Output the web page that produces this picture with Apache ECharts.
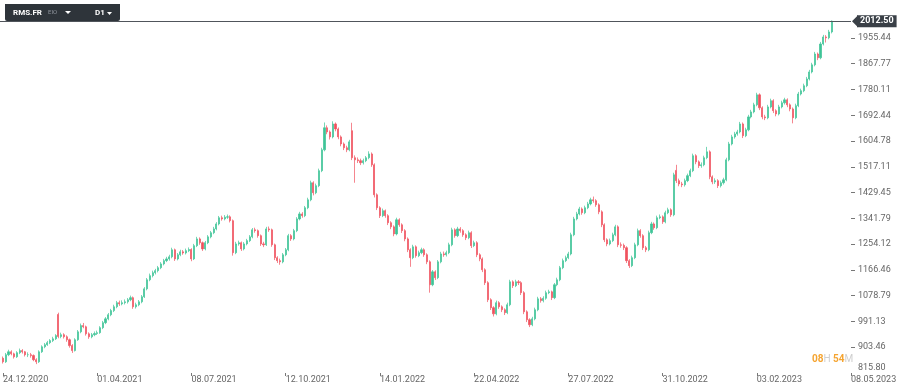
<!DOCTYPE html>
<html><head><meta charset="utf-8">
<script src="https://cdn.jsdelivr.net/npm/echarts@6/dist/echarts.min.js"></script>
<style>html,body{margin:0;padding:0;background:#fff}#c{width:900px;height:390px}</style>
</head><body><div id="c"></div>
<script>
const tickLabels = ['24.12.2020','01.04.2021','08.07.2021','12.10.2021','14.01.2022','22.04.2022','27.07.2022','31.10.2022','03.02.2023','08.05.2023'];
const yTicks = [815.80, 903.46, 991.13, 1078.79, 1166.46, 1254.12, 1341.79, 1429.45, 1517.11, 1604.78, 1692.44, 1780.11, 1867.77, 1955.44];
const lastPrice = 2012.50;
const barsPerLabel = 34;

const opens = [
866,854,878,888,881,871,885,892,888,878,
878,875,861,854,888,905,912,919,926,932,
1015,940,946,939,929,909,892,929,956,977,
973,949,939,946,950,953,970,987,1000,1014,
1028,1041,1055,1051,1055,1058,1065,1072,1041,1048,
1058,1075,1102,1133,1147,1157,1164,1174,1187,1198,
1204,1211,1235,1204,1218,1228,1224,1232,1236,1204,
1249,1272,1259,1238,1259,1279,1293,1306,1323,1344,
1340,1346,1347,1334,1225,1255,1259,1238,1255,1266,
1279,1303,1300,1283,1255,1252,1306,1303,1252,1208,
1198,1194,1218,1235,1283,1272,1300,1340,1357,1351,
1378,1405,1463,1429,1453,1504,1575,1650,1636,1619,
1663,1646,1619,1595,1582,1575,1640,1548,1541,1538,
1531,1538,1548,1561,1524,1422,1378,1351,1368,1351,
1327,1313,1289,1337,1320,1300,1272,1235,1208,1245,
1215,1225,1235,1218,1194,1116,1160,1140,1194,1221,
1218,1225,1252,1303,1283,1306,1300,1286,1276,1293,
1249,1259,1218,1204,1167,1123,1065,1038,1017,1055,
1041,1031,1021,1048,1126,1113,1126,1123,1089,1024,
997,980,1000,1031,1068,1062,1070,1089,1092,1072,
1116,1133,1174,1198,1208,1221,1286,1340,1357,1374,
1361,1378,1391,1405,1402,1388,1364,1320,1269,1255,
1266,1286,1313,1252,1250,1242,1198,1181,1208,1252,
1300,1283,1242,1235,1293,1323,1310,1344,1347,1330,
1361,1371,1354,1505,1470,1459,1456,1470,1487,1504,
1555,1534,1521,1524,1548,1568,1483,1466,1470,1453,
1463,1473,1541,1595,1619,1629,1636,1663,1623,1643,
1687,1704,1728,1762,1718,1687,1684,1721,1742,1708,
1697,1721,1735,1745,1728,1714,1684,1725,1765,1776,
1793,1816,1840,1864,1901,1888,1935,1959,1956,1976
];
const closes = [
854,878,888,881,871,885,892,888,878,878,
875,861,854,888,905,912,919,926,932,943,
940,946,939,929,909,892,929,956,977,973,
949,939,946,950,953,970,987,1000,1014,1028,
1041,1055,1051,1055,1058,1065,1072,1041,1048,1058,
1075,1102,1133,1147,1157,1164,1174,1187,1198,1204,
1211,1235,1204,1218,1228,1224,1232,1236,1204,1249,
1272,1259,1238,1259,1279,1293,1306,1323,1344,1340,
1346,1347,1334,1225,1255,1259,1238,1255,1266,1279,
1303,1300,1283,1255,1252,1306,1303,1252,1208,1198,
1194,1218,1235,1283,1272,1300,1340,1357,1351,1378,
1405,1463,1429,1453,1504,1575,1650,1636,1619,1663,
1646,1619,1595,1582,1575,1602,1548,1541,1538,1531,
1538,1548,1561,1524,1422,1378,1351,1368,1351,1327,
1313,1289,1337,1320,1300,1272,1235,1208,1245,1215,
1225,1235,1218,1194,1116,1160,1140,1194,1221,1218,
1225,1252,1303,1283,1306,1300,1286,1276,1293,1249,
1259,1218,1204,1167,1123,1065,1038,1017,1055,1041,
1031,1021,1048,1126,1113,1126,1123,1089,1024,997,
980,1000,1031,1068,1062,1070,1089,1092,1072,1116,
1133,1174,1198,1208,1221,1286,1340,1357,1374,1361,
1378,1391,1405,1402,1388,1364,1320,1269,1255,1266,
1286,1313,1252,1250,1242,1198,1181,1208,1252,1300,
1283,1242,1235,1293,1323,1310,1344,1347,1330,1361,
1371,1354,1490,1470,1459,1456,1470,1487,1504,1555,
1534,1521,1524,1548,1568,1483,1466,1470,1453,1463,
1473,1541,1595,1619,1629,1636,1663,1623,1643,1687,
1704,1728,1762,1718,1687,1684,1721,1742,1708,1697,
1721,1735,1745,1728,1714,1684,1725,1765,1776,1793,
1816,1840,1864,1901,1888,1935,1959,1956,1976,2012.5
];
const lows = [
848,850,873,876,865,867,880,882,872,870,
868,856,846,850,884,900,908,914,921,928,
934,934,933,922,902,884,889,925,951,968,
943,932,934,941,945,949,965,982,995,1009,
1023,1036,1044,1046,1049,1052,1060,1034,1035,1043,
1053,1071,1097,1128,1141,1151,1158,1169,1182,1193,
1198,1206,1197,1199,1213,1218,1219,1227,1196,1200,
1244,1252,1231,1233,1254,1274,1288,1301,1318,1334,
1335,1340,1328,1215,1220,1249,1231,1233,1250,1261,
1274,1293,1276,1248,1244,1248,1296,1245,1200,1190,
1184,1189,1213,1230,1265,1267,1295,1335,1344,1346,
1373,1400,1420,1424,1448,1499,1570,1628,1610,1614,
1638,1611,1587,1574,1567,1570,1540,1463,1530,1523,
1525,1533,1543,1517,1413,1370,1343,1346,1344,1319,
1305,1281,1284,1313,1292,1264,1227,1177,1203,1208,
1210,1220,1211,1186,1089,1111,1132,1135,1189,1211,
1212,1220,1247,1276,1278,1293,1279,1268,1271,1241,
1244,1210,1196,1159,1115,1057,1030,1008,1012,1034,
1023,1013,1016,1043,1105,1108,1115,1081,1016,989,
972,975,995,1026,1055,1056,1065,1084,1064,1067,
1111,1128,1169,1193,1203,1216,1281,1335,1352,1354,
1356,1373,1386,1395,1381,1356,1312,1261,1247,1250,
1261,1281,1244,1242,1234,1190,1173,1176,1203,1247,
1276,1234,1227,1230,1288,1303,1305,1339,1323,1325,
1356,1347,1349,1462,1451,1448,1450,1465,1482,1499,
1526,1513,1514,1519,1543,1475,1458,1459,1445,1447,
1457,1468,1536,1590,1613,1623,1631,1615,1618,1638,
1682,1699,1723,1710,1679,1676,1679,1716,1700,1689,
1692,1716,1729,1720,1706,1665,1679,1720,1760,1771,
1788,1811,1835,1859,1880,1883,1930,1940,1951,1971
];
const highs = [
872,884,895,893,885,890,899,897,891,886,
884,879,866,893,910,918,925,931,939,948,
1021,953,951,944,933,914,934,962,984,986,
977,954,952,957,960,975,993,1006,1020,1034,
1048,1061,1062,1063,1066,1071,1079,1076,1055,1064,
1081,1108,1139,1154,1164,1170,1180,1193,1204,1211,
1218,1242,1239,1224,1235,1234,1239,1243,1240,1255,
1279,1277,1263,1265,1285,1299,1313,1329,1350,1351,
1353,1355,1352,1338,1262,1266,1263,1261,1272,1285,
1309,1310,1304,1287,1262,1313,1314,1307,1256,1213,
1205,1224,1241,1289,1288,1306,1346,1364,1363,1384,
1412,1470,1468,1460,1511,1582,1668,1658,1641,1672,
1668,1651,1624,1600,1589,1609,1667,1556,1549,1545,
1545,1554,1570,1566,1529,1427,1383,1375,1372,1356,
1332,1318,1344,1342,1325,1305,1277,1240,1252,1250,
1232,1242,1240,1223,1199,1166,1165,1200,1228,1229,
1232,1259,1310,1308,1313,1312,1305,1291,1300,1298,
1266,1264,1223,1209,1172,1128,1070,1043,1062,1060,
1046,1036,1055,1133,1131,1133,1132,1128,1094,1029,
1002,1007,1038,1075,1074,1077,1096,1099,1096,1122,
1140,1180,1205,1215,1228,1293,1347,1364,1381,1379,
1385,1398,1412,1416,1407,1393,1369,1325,1274,1273,
1293,1320,1318,1260,1256,1247,1203,1215,1259,1307,
1305,1288,1248,1300,1330,1328,1351,1355,1352,1368,
1378,1376,1497,1524,1477,1466,1477,1494,1511,1562,
1560,1539,1532,1555,1585,1573,1488,1478,1475,1470,
1480,1548,1602,1626,1636,1643,1670,1668,1650,1694,
1711,1735,1769,1767,1723,1694,1728,1749,1747,1713,
1728,1742,1752,1750,1733,1719,1732,1772,1783,1800,
1823,1847,1871,1908,1906,1942,1966,1965,1983,2015
];

const UP = '#3ec497', DOWN = '#f0525e';
const totalSlots = (tickLabels.length - 1) * barsPerLabel + 1;
const cats = Array.from({length: totalSlots}, (_, i) => String(i));
const ohlc = closes.map((c, i) => [opens[i], c, lows[i], highs[i]]);
const isLabel = (i) => i % barsPerLabel === 0;

const chart = echarts.init(document.getElementById('c'));
const GRID = {left: 3, right: 49, top: 0, bottom: 17};
chart.setOption({
  animation: false,
  textStyle: {fontFamily: 'Roboto'},
  grid: GRID,
  xAxis: {
    type: 'category', data: cats, boundaryGap: false,
    axisLine: {show: false},
    axisTick: {show: true, interval: isLabel, length: 3, lineStyle: {color: '#777'}},
    axisLabel: {interval: isLabel, align: 'left', margin: 2, color: '#666', fontSize: 9,
      formatter: (v, i) => tickLabels[Math.round(i / barsPerLabel)] || ''},
    splitLine: {show: false}
  },
  yAxis: {
    type: 'value', position: 'right', min: 815.80, max: 2084.6,
    splitLine: {show: false}, axisLine: {show: false},
    axisTick: {show: true, length: 4, customValues: yTicks.slice(1), lineStyle: {color: '#777'}},
    axisLabel: {customValues: yTicks, margin: 7, color: '#666', fontSize: 9,
      formatter: (v) => Math.abs(v - yTicks[0]) < 0.01 ? '{lo|' + v.toFixed(2) + '}' : v.toFixed(2),
      rich: {lo: {padding: [0, 0, 10, 0], color: '#666', fontSize: 9}}}
  },
  series: [{
    type: 'candlestick', data: ohlc, barWidth: 1.6,
    itemStyle: {color: UP, color0: DOWN, borderColor: UP, borderColor0: DOWN, borderWidth: 0.7},
    markLine: {
      silent: true, symbol: ['none', 'none'], animation: false,
      lineStyle: {color: '#50555b', width: 1, type: 'solid'},
      label: {show: true, position: 'end', formatter: lastPrice.toFixed(2), color: '#fff',
        backgroundColor: '#3a4047', padding: [2, 3, 1, 3], fontSize: 9, fontWeight: 'bold', distance: 6},
      data: [{yAxis: lastPrice}]
    }
  }]
});

const py = chart.convertToPixel({yAxisIndex: 0}, lastPrice);
const xr = 900 - GRID.right;
chart.setOption({
  graphic: [
    {type: 'line', shape: {x1: 0, y1: Math.round(py) + 0.5, x2: GRID.left, y2: Math.round(py) + 0.5}, style: {stroke: '#50555b', lineWidth: 1}},
    {type: 'polygon', shape: {points: [[xr + 1, py], [xr + 7, py - 6], [xr + 7, py + 6]]}, style: {fill: '#3a4047'}},
    {type: 'rect', shape: {x: 5, y: 4, width: 115, height: 17, r: [0, 0, 2, 2]}, style: {fill: '#2e343a'}},
    {type: 'text', x: 13, y: 12.5, style: {text: 'RMS.FR', fill: '#fff', font: 'bold 8px Roboto', verticalAlign: 'middle'}},
    {type: 'text', x: 48, y: 12.5, style: {text: 'EIO', fill: '#8c929a', font: '6px Roboto', verticalAlign: 'middle'}},
    {type: 'polygon', shape: {points: [[65, 11], [71, 11], [68, 14]]}, style: {fill: '#fff'}},
    {type: 'text', x: 95, y: 12.5, style: {text: 'D1', fill: '#fff', font: 'bold 8px Roboto', verticalAlign: 'middle'}},
    {type: 'polygon', shape: {points: [[107, 12], [112, 12], [109.5, 15]]}, style: {fill: '#fff'}},
    {type: 'text', x: 812, y: 359, style: {text: '{o|08}{g|H }{o|54}{g|M}', verticalAlign: 'middle',
      rich: {o: {fill: '#f5a430', fontSize: 10, fontWeight: 'bold', fontFamily: 'Roboto'},
             g: {fill: '#cfcfcf', fontSize: 10, fontFamily: 'Roboto'}}}}
  ]
});
</script></body></html>
